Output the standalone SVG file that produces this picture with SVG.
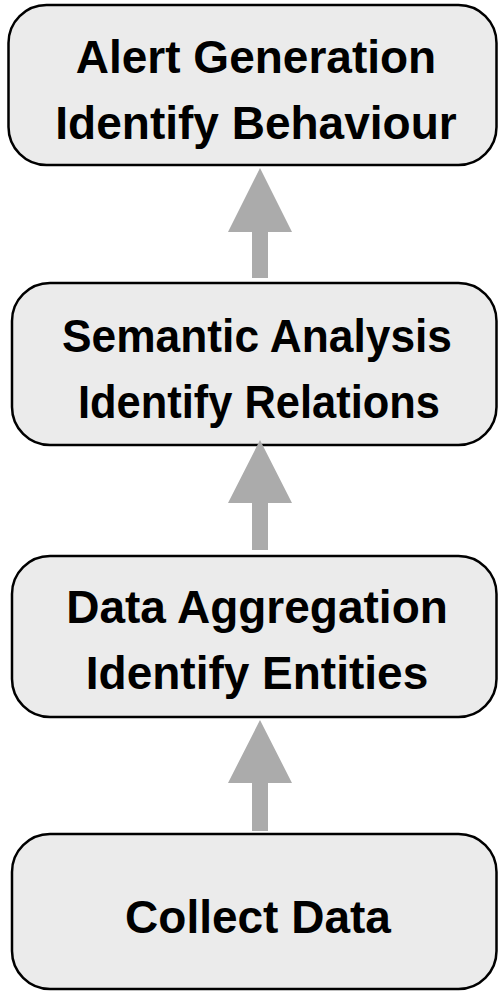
<svg xmlns="http://www.w3.org/2000/svg" width="498" height="992" viewBox="0 0 498 992">
<defs>
<style>
.box{fill:#ebebeb;stroke:#000;stroke-width:2.5}
.lbl{font-family:"Liberation Sans",Arial,sans-serif;font-weight:bold;font-size:46px;fill:#000;text-anchor:middle}
.arr{fill:#ababab;stroke:none}
</style>
</defs>
<rect width="498" height="992" fill="#fff"/>
<g id="alert">
<rect class="box" x="8.5" y="5" width="488" height="160" rx="38" ry="38"/>
<text class="lbl" x="256" y="73">Alert Generation</text>
<text class="lbl" x="256" y="139">Identify Behaviour</text>
</g>
<g id="semantic">
<rect class="box" x="12" y="283" width="484.5" height="162" rx="38" ry="38"/>
<text class="lbl" x="257" y="352" textLength="390" lengthAdjust="spacingAndGlyphs">Semantic Analysis</text>
<text class="lbl" x="259" y="418" textLength="362" lengthAdjust="spacingAndGlyphs">Identify Relations</text>
</g>
<g id="aggregation">
<rect class="box" x="12" y="556" width="484.5" height="161" rx="38" ry="38"/>
<text class="lbl" x="257" y="623">Data Aggregation</text>
<text class="lbl" x="257" y="689">Identify Entities</text>
</g>
<g id="collect">
<rect class="box" x="12" y="834" width="484.5" height="155" rx="38" ry="38"/>
<text class="lbl" x="258" y="933">Collect Data</text>
</g>
<g id="connectors">
<polygon class="arr" points="260,168 292,232 268,232 268,278 252,278 252,232 228,232"/>
<polygon class="arr" points="260,440 292,503 268,503 268,550 252,550 252,503 228,503"/>
<polygon class="arr" points="260,720 292,783 268,783 268,831 252,831 252,783 228,783"/>
</g>
</svg>
